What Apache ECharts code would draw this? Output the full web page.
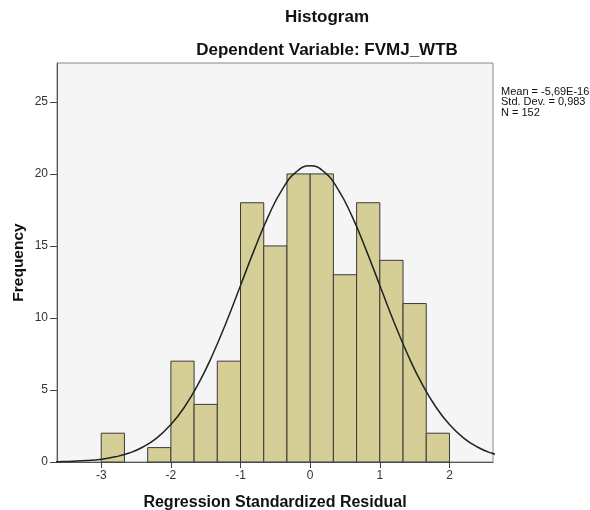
<!DOCTYPE html>
<html>
<head>
<meta charset="utf-8">
<script src="https://cdn.jsdelivr.net/npm/echarts@6/dist/echarts.min.js"></script>
<style>
html,body{margin:0;padding:0;background:#fff;}
#c{width:590px;height:510px;}
</style>
</head>
<body>
<div id="c"></div>
<script>
// Histogram bins (bin width 1/3)
const binStarts = [-3, -2.6667, -2.3333, -2, -1.6667, -1.3333, -1, -0.6667, -0.3333, 0, 0.3333, 0.6667, 1, 1.3333, 1.6667];
const binEnds   = [-2.6667, -2.3333, -2, -1.6667, -1.3333, -1, -0.6667, -0.3333, 0, 0.3333, 0.6667, 1, 1.3333, 1.6667, 2];
const counts    = [2, 0, 1, 7, 4, 7, 18, 15, 20, 20, 13, 18, 14, 11, 2];

// Normal curve values (Mean ~0, SD 0.983, N 152)
const curveX = [-3.8, -3.6, -3.4, -3.2, -3.0, -2.8, -2.6, -2.4, -2.2, -2.0, -1.8, -1.6, -1.4, -1.2, -1.0, -0.8, -0.6, -0.4, -0.2, 0, 0.2, 0.4, 0.6, 0.8, 1.0, 1.2, 1.4, 1.6, 1.8, 2.0, 2.2, 2.4, 2.6, 2.8];
const curveY = [0.012, 0.025, 0.052, 0.103, 0.195, 0.36, 0.62, 1.04, 1.68, 2.60, 3.85, 5.47, 7.46, 9.76, 12.26, 14.76, 17.07, 18.93, 20.14, 20.56, 20.14, 18.93, 17.07, 14.76, 12.26, 9.76, 7.46, 5.47, 3.85, 2.60, 1.68, 1.04, 0.62, 0.36];

const xTicks = [-3, -2, -1, 0, 1, 2];
const yTicks = [0, 5, 10, 15, 20, 25];

const statsLines = ['Mean = -5,69E-16', 'Std. Dev. = 0,983', 'N = 152'];

const FONT = "'Liberation Sans', Arial, sans-serif";

const chart = echarts.init(document.getElementById('c'), null, {renderer: 'canvas'});

const barData = binStarts.map((s, i) => [s, binEnds[i], counts[i]]);
const curveData = curveX.map((x, i) => [x, curveY[i]]);

chart.setOption({
  animation: false,
  backgroundColor: '#ffffff',
  textStyle: {fontFamily: FONT},
  title: [
    {text: 'Histogram', left: 327, top: 9, textAlign: 'center', padding: 0,
     textStyle: {fontFamily: FONT, fontSize: 17, fontWeight: 'bold', color: '#111'}},
    {text: 'Dependent Variable: FVMJ_WTB', left: 327, top: 42, textAlign: 'center', padding: 0,
     textStyle: {fontFamily: FONT, fontSize: 17, fontWeight: 'bold', color: '#111'}}
  ],
  grid: {left: 57, right: 97, top: 63, bottom: 48, show: true,
         outerBoundsMode: 'none', containLabel: false,
         backgroundColor: '#f5f5f5', borderColor: '#888', borderWidth: 1},
  xAxis: {
    type: 'value', min: -3.635, max: 2.625,
    name: 'Regression Standardized Residual', nameLocation: 'middle', nameGap: 33,
    nameMoveOverlap: false,
    nameTextStyle: {fontFamily: FONT, fontSize: 16, fontWeight: 'bold', color: '#111'},
    axisLine: {show: true, onZero: false, lineStyle: {color: '#555', width: 1}},
    axisTick: {show: true, length: 6, customValues: xTicks, lineStyle: {color: '#444'}},
    axisLabel: {customValues: xTicks, fontFamily: FONT, fontSize: 12, color: '#333', margin: 8},
    splitLine: {show: false}
  },
  yAxis: {
    type: 'value', min: 0, max: 27.7,
    name: 'Frequency', nameLocation: 'middle', nameGap: 30, nameRotate: 90,
    nameMoveOverlap: false,
    nameTextStyle: {fontFamily: FONT, fontSize: 15.5, fontWeight: 'bold', color: '#111'},
    axisLine: {show: true, onZero: false, lineStyle: {color: '#555', width: 1}},
    axisTick: {show: true, length: 7, customValues: yTicks, lineStyle: {color: '#444'}},
    axisLabel: {customValues: yTicks, fontFamily: FONT, fontSize: 12, color: '#333', margin: 9},
    splitLine: {show: false}
  },
  series: [
    {
      type: 'custom',
      data: barData,
      encode: {x: [0, 1], y: 2},
      renderItem: function (params, api) {
        const p0 = api.coord([api.value(0), api.value(2)]);
        const p1 = api.coord([api.value(1), 0]);
        if (api.value(2) <= 0) return null;
        return {
          type: 'rect',
          shape: {x: p0[0], y: p0[1], width: p1[0] - p0[0], height: p1[1] - p0[1]},
          style: {fill: '#d5ce97', stroke: '#3a3a3a', lineWidth: 1}
        };
      },
      z: 2
    },
    {
      type: 'line',
      data: curveData,
      smooth: true,
      showSymbol: false,
      symbol: 'none',
      clip: true,
      lineStyle: {color: '#222', width: 1.5},
      z: 3
    }
  ],
  graphic: statsLines.map((t, i) => ({
    type: 'text', left: 501, top: 86 + i * 10.8,
    style: {text: t, fontFamily: FONT, fontSize: 11, fill: '#111'}
  }))
});
</script>
</body>
</html>
